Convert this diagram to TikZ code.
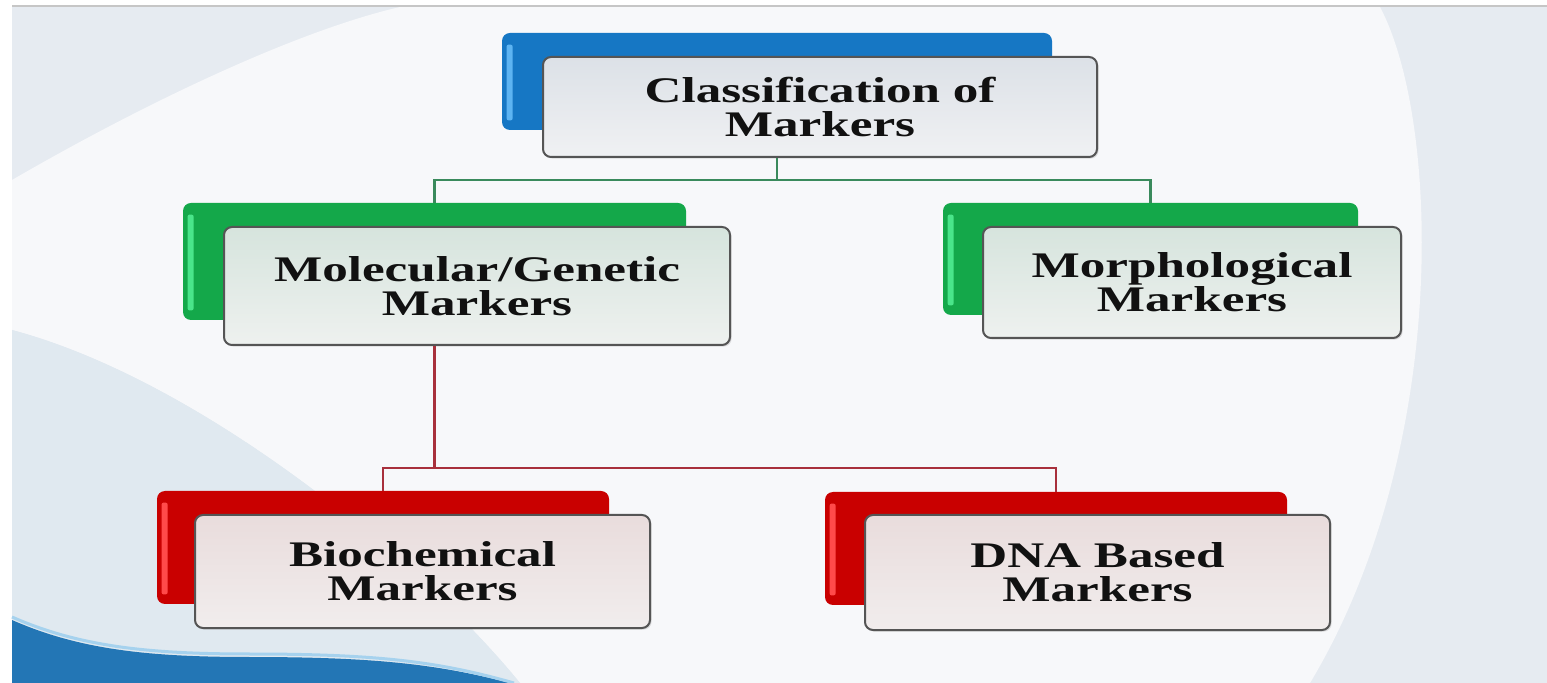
\documentclass[tikz,border=0pt]{standalone}
\usepackage{fontspec}
\setmainfont{Liberation Serif}
\usepackage{graphicx}
\usetikzlibrary{shadows}
\definecolor{bgout}{HTML}{E6EBF1}
\definecolor{bgin}{HTML}{F7F8FA}
\definecolor{bgll}{HTML}{E0E9F0}
\definecolor{wave}{HTML}{2376B5}
\definecolor{wavehi}{HTML}{A6D2EE}
\definecolor{cblue}{HTML}{1677C4}
\definecolor{cbluehi}{HTML}{5DB4F2}
\definecolor{cgreen}{HTML}{14A84A}
\definecolor{cgreenhi}{HTML}{4AE58A}
\definecolor{cred}{HTML}{C90000}
\definecolor{credhi}{HTML}{FF4A4A}
\definecolor{gconn}{HTML}{3A8A5C}
\definecolor{rconn}{HTML}{A8303C}
\definecolor{fborder}{HTML}{555555}
\definecolor{txt}{HTML}{111111}
\definecolor{ftopT}{HTML}{DCE1E7}
\definecolor{fbotT}{HTML}{F0F1F3}
\definecolor{ftopG}{HTML}{D6E4DD}
\definecolor{fbotG}{HTML}{EEF1EF}
\definecolor{ftopR}{HTML}{E9DCDC}
\definecolor{fbotR}{HTML}{F1EDED}
\newcommand{\stretchtxt}[1]{\scalebox{1.42}[1]{#1}}
\begin{document}
\begin{tikzpicture}[x=0.5pt,y=-0.5pt,
  backbox/.style={rounded corners=4pt, inner sep=0pt, draw=none},
  frontbox/.style={rounded corners=4pt, inner sep=0pt, draw=fborder, line width=1pt,
    align=center, text=txt, font=\bfseries\fontsize{18}{17}\selectfont,
    drop shadow={opacity=0.25, shadow xshift=0.8pt, shadow yshift=-0.8pt}},
  gline/.style={draw=gconn, line width=1.1pt},
  rline/.style={draw=rconn, line width=1.1pt}]
% ---------- background ----------
\useasboundingbox (0,0) rectangle (1547,683);
\fill[white] (0,0) rectangle (1547,683);
\fill[bgout] (12,7) rectangle (1547,683);
\fill[bgin] (400,7) -- (1380,7) .. controls (1440,120) and (1450,450) .. (1310,683)
  -- (520,683) .. controls (420,560) and (200,380) .. (12,330)
  -- (12,180) .. controls (150,100) and (300,30) .. (400,7) -- cycle;
\fill[bgll] (12,330) .. controls (200,380) and (420,560) .. (520,683) -- (12,683) -- cycle;
\fill[wave] (12,620) .. controls (80,650) and (150,657) .. (250,657)
  .. controls (380,657) and (440,665) .. (510,683) -- (12,683) -- cycle;
\draw[wavehi, line width=1.5pt] (12,617) .. controls (80,647) and (150,654) .. (250,654)
  .. controls (380,654) and (440,662) .. (514,683);
\draw[gray!45, line width=0.8pt] (12,6) -- (1547,6);
% ---------- back boxes ----------
\node[backbox, fill=cblue, minimum width=275pt, minimum height=48.5pt] (tb) at (777,81.5) {};
\node[backbox, fill=cgreen, minimum width=251.5pt, minimum height=58.5pt] (gl) at (434.5,261.5) {};
\node[backbox, fill=cgreen, minimum width=207.5pt, minimum height=56pt] (gr) at (1150.5,259) {};
\node[backbox, fill=cred, minimum width=226pt, minimum height=56.5pt] (rl) at (383,547.5) {};
\node[backbox, fill=cred, minimum width=231pt, minimum height=56.5pt] (rr) at (1056,548.5) {};
% highlights on back boxes
\foreach \n/\c in {tb/cbluehi, gl/cgreenhi, gr/cgreenhi, rl/credhi, rr/credhi}{
  \fill[\c, rounded corners=1pt] ([xshift=2.5pt,yshift=-6pt]\n.north west) rectangle ([xshift=5.5pt,yshift=5pt]\n.south west);
}
% ---------- front boxes ----------
\node[frontbox, top color=ftopT, bottom color=fbotT,
  minimum width=277pt, minimum height=50pt] (tf) at (820,107)
  {\stretchtxt{Classification of}\\\stretchtxt{Markers}};
\node[frontbox, top color=ftopG, bottom color=fbotG,
  minimum width=253pt, minimum height=59pt] (gfl) at (477,286)
  {\stretchtxt{Molecular/Genetic}\\\stretchtxt{Markers}};
\node[frontbox, top color=ftopG, bottom color=fbotG,
  minimum width=209pt, minimum height=55.5pt] (gfr) at (1192,282.5)
  {\stretchtxt{Morphological}\\\stretchtxt{Markers}};
\node[frontbox, top color=ftopR, bottom color=fbotR,
  minimum width=227.5pt, minimum height=56.5pt] (rfl) at (422.5,571.5)
  {\stretchtxt{Biochemical}\\\stretchtxt{Markers}};
\node[frontbox, top color=ftopR, bottom color=fbotR,
  minimum width=232.5pt, minimum height=57.5pt] (rfr) at (1097.5,572.5)
  {\stretchtxt{DNA Based}\\\stretchtxt{Markers}};
% ---------- connectors ----------
\coordinate (bus1) at (0,180);
\coordinate (bus2) at (0,468);
\draw[gline] (tb.center |- tf.south) -- (tb.center |- bus1);
\draw[gline] (gl.north) -- (gl.north |- bus1) -- (gr.north |- bus1) -- (gr.north);
\draw[rline] (gl.center |- gfl.south) -- (gl.center |- bus2);
\draw[rline] (rl.north) -- (rl.north |- bus2) -- (rr.north |- bus2) -- (rr.north);
\end{tikzpicture}
\end{document}
